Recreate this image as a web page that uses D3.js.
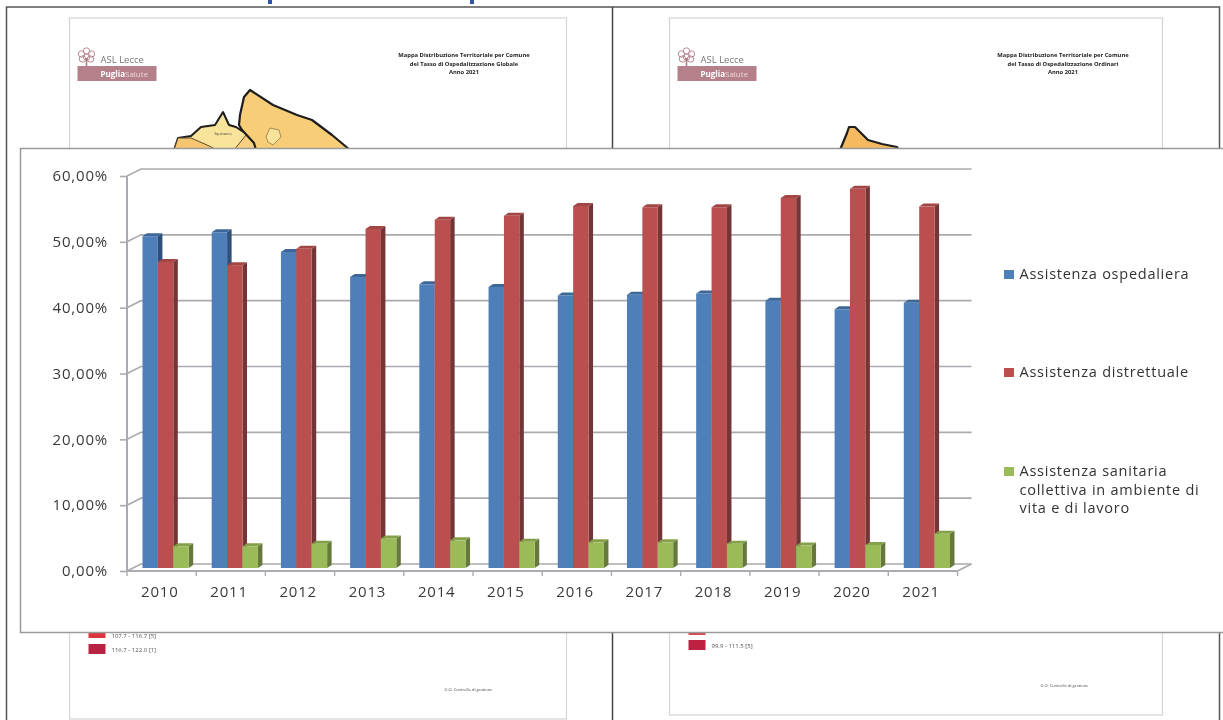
<!DOCTYPE html>
<html>
<head>
<meta charset="utf-8">
<script src="https://cdn.jsdelivr.net/npm/d3@7"></script>
<style>
  html, body { margin: 0; padding: 0; background: #fff; overflow: hidden; }
  svg { display: block; filter: blur(0.35px); }
  text { font-family: "Open Sans", sans-serif; }
</style>
</head>
<body>
<svg id="chart" width="1223" height="720"></svg>
<script>
//Données
let annees = ["2010","2011","2012","2013","2014","2015","2016","2017","2018","2019","2020","2021"];
let ospedaliera = [50.4,51.0,48.0,44.2,43.1,42.7,41.4,41.5,41.7,40.6,39.3,40.3];
let distrettuale = [46.5,46.0,48.5,51.5,52.9,53.5,55.0,54.8,54.8,56.2,57.6,54.9];
let collettiva = [3.3,3.3,3.7,4.5,4.2,4.0,3.9,3.9,3.7,3.4,3.5,5.2];
let ticksY = [0,10,20,30,40,50,60];
let nomsSeries = ["Assistenza ospedaliera","Assistenza distrettuale","Assistenza sanitaria|collettiva in ambiente di|vita e di lavoro"];

let svg = d3.select("#chart");

//FOND : les deux pages derrière le graphique------------
function ligne(pts){ return d3.line()(pts); }

svg.append("rect").attr("x",6.5).attr("y",7).attr("width",1213).attr("height",720)
  .attr("fill","#fff").attr("stroke","#555").attr("stroke-width",1.5);
svg.append("line").attr("x1",612.5).attr("x2",612.5).attr("y1",7).attr("y2",720)
  .attr("stroke","#444").attr("stroke-width",1.5);

//Morceaux du titre coupé en haut
[268,470].forEach(function(px){
  svg.append("rect").attr("x",px).attr("y",0).attr("width",4).attr("height",4).attr("fill","#2f55a4");
});

function page(o){
  let g = svg.append("g");
  g.append("rect").attr("x",o.x).attr("y",18).attr("width",o.w).attr("height",o.h)
    .attr("fill","#fff").attr("stroke","#d4d4d4").attr("stroke-width",1.2);

  //logo
  let lx = o.x + 17;
  [[0,-6],[-5,-3],[5,-3],[-4,2],[4,2],[0,0]].forEach(function(c){
    g.append("circle").attr("cx",lx+c[0]).attr("cy",57+c[1]).attr("r",3.2)
      .attr("fill","none").attr("stroke","#b98a90").attr("stroke-width",1);
  });
  g.append("line").attr("x1",lx).attr("x2",lx).attr("y1",58).attr("y2",66).attr("stroke","#a9747c").attr("stroke-width",1.5);
  g.append("text").attr("x",o.x+31).attr("y",63).attr("font-size",9.5).attr("fill","#777").text("ASL Lecce");
  g.append("rect").attr("x",o.x+8).attr("y",66).attr("width",79).attr("height",15).attr("fill","#b5808a");
  g.append("text").attr("x",o.x+31).attr("y",77).attr("font-size",8).attr("fill","#fff")
    .attr("font-weight",700).text("Puglia")
    .append("tspan").attr("font-weight",400).attr("fill","#ecd9dc").text("Salute");

  //titre de la carte
  o.titre.forEach(function(t,i){
    g.append("text").attr("x",o.tx).attr("y",57+i*8.7).attr("text-anchor","middle")
      .attr("font-size",5.8).attr("font-weight",700).attr("fill","#222").text(t);
  });

  //légende de la carte
  o.legende.forEach(function(l){
    g.append("rect").attr("x",o.x+19).attr("y",l.y).attr("width",17).attr("height",l.h).attr("fill",l.c);
    g.append("text").attr("x",o.x+42).attr("y",l.y+8).attr("font-size",6).attr("fill","#555")
      .attr("font-family","Liberation Serif").text(l.t);
  });

  g.append("text").attr("x",o.x+o.w-122).attr("y",o.yu).attr("font-size",4).attr("fill","#444").text("U.O. Controllo di gestione");
  return g;
}

let pageG = page({
  x:69.5, w:497, h:701, tx:464, yu:691,
  titre:["Mappa Distribuzione Territoriale per Comune","del Tasso di Ospedalizzazione Globale","Anno 2021"],
  legende:[{y:630,h:8,c:"#d9363e",t:"107.7 - 116.7  [5]"},{y:644,h:10,c:"#b92343",t:"116.7 - 122.0  [1]"}]
});
let pageD = page({
  x:669.5, w:493, h:697, tx:1063, yu:687,
  titre:["Mappa Distribuzione Territoriale per Comune","del Tasso di Ospedalizzazione Ordinari","Anno 2021"],
  legende:[{y:630,h:5,c:"#d9464e",t:""},{y:640,h:10,c:"#bd2142",t:"99.9 - 111.5  [5]"}]
});

//Contours des cartes, visibles au-dessus du panneau
let carteOrange = [[250,90],[273,105],[297,115],[312,120],[332,135],[350,150],[256,150],[254,143],[242,130],[239,125],[240,115],[244,97]];
let carteJaune = [[174,150],[178,138],[191,136],[201,127],[215,125],[223,112],[229,125],[236,127],[242,131],[250,136],[256,150]];
let carteOrange2 = [[174,150],[178,138],[191,138],[207,145],[217,150]];
let carteOrange3 = [[234,150],[246,135],[254,143],[256,150]];
let cartePale = [[270,128],[279,130],[281,137],[273,145],[268,142],[266,137]];
let carteDroite = [[840,150],[847,133],[849,127],[855,127],[868,140],[882,144],[897,147],[899,150]];

function zone(g,pts,fill,stroke,sw){
  g.append("path").attr("d",ligne(pts)+"Z").attr("fill",fill).attr("stroke",stroke).attr("stroke-width",sw).attr("stroke-linejoin","round");
}
zone(pageG,carteJaune,"#f8e39a","#1d1d1d",2);
zone(pageG,carteOrange2,"#f6c56f","#5a4a2a",1);
zone(pageG,carteOrange3,"#f6cf80","#5a4a2a",1);
zone(pageG,carteOrange,"#f7cd78","#1d1d1d",2.2);
zone(pageG,cartePale,"#f8e39a","#8d7a4a",0.8);
pageG.append("text").attr("x",223).attr("y",135).attr("text-anchor","middle").attr("font-size",3.5).attr("fill","#444").text("Squinzano");
zone(pageD,carteDroite,"#f5b95f","#1d1d1d",2.2);

//PANNEAU DU GRAPHIQUE------------------------------------
svg.append("rect").attr("x",20.5).attr("y",148.5).attr("width",1230).attr("height",484)
  .attr("fill","#fff").attr("stroke","#9a9a9a").attr("stroke-width",1.5);

//Echelles
let margeX = 127, finX = 957.5, baseAxe = 571, hautAxe = 176;
let profX = 14, profY = 7;     //profondeur du mur du fond
let baseBarre = 568;           //les barres sont posées au milieu du sol
let largeurBarre = 15.4;
let x = d3.scaleBand().domain(annees).range([margeX, finX]);
let y = d3.scaleLinear().domain([0,60]).range([baseAxe, hautAxe]);
let hauteur = d3.scaleLinear().domain([0,60]).range([0, baseAxe-hautAxe]);

let couleurGrille = "#a9abb0";

//Lignes du fond
let grille = svg.append("g").attr("class","grille");
ticksY.forEach(function(t){
  grille.append("path")
    .attr("d", ligne([[margeX,y(t)],[margeX+profX,y(t)-profY],[finX+profX,y(t)-profY]]))
    .attr("fill","none").attr("stroke",couleurGrille).attr("stroke-width",t===0?1.6:1.6);
});
grille.append("path")
  .attr("d", ligne([[finX,baseAxe],[finX+profX,baseAxe-profY]]))
  .attr("fill","none").attr("stroke",couleurGrille).attr("stroke-width",1.6);

//Barres en pseudo 3D : côté, dessus, face
let series = [
  {nom:nomsSeries[0], val:ospedaliera, face:"#4f7fb8", cote:"#2f4f7c", dessus:"#3d6797"},
  {nom:nomsSeries[1], val:distrettuale, face:"#b9504f", cote:"#733535", dessus:"#a04745"},
  {nom:nomsSeries[2], val:collettiva, face:"#9bbb59", cote:"#66793c", dessus:"#84a04a"}
];
let decalage = d3.scaleBand().domain([0,1,2]).range([15.5, 15.5+3*largeurBarre]);
let dx = 4.5, dy = 3;

annees.forEach(function(an,i){
  let gAn = svg.append("g").attr("class","annee");
  series.forEach(function(s,k){
    let x0 = x(an) + decalage(k);
    let x1 = x0 + decalage.bandwidth();
    let yh = baseBarre - hauteur(s.val[i]);
    gAn.append("path").attr("d", ligne([[x1,yh],[x1+dx,yh-dy],[x1+dx,baseBarre-dy],[x1,baseBarre]])+"Z").attr("fill",s.cote);
    gAn.append("path").attr("d", ligne([[x0,yh],[x0+dx,yh-dy],[x1+dx,yh-dy],[x1,yh]])+"Z").attr("fill",s.dessus);
    gAn.append("rect").attr("x",x0).attr("y",yh).attr("width",x1-x0).attr("height",baseBarre-yh).attr("fill",s.face);
  });
});

//Axes
let axeY = svg.append("g")
  .attr("transform","translate("+margeX+",0)")
  .call(d3.axisLeft(y).tickValues(ticksY).tickSize(7).tickPadding(12)
    .tickFormat(function(d){ return d.toFixed(2).replace(".",",")+"%"; }));
axeY.select(".domain").attr("stroke",couleurGrille).attr("stroke-width",2).attr("d","M0,"+hautAxe+"V"+baseAxe);
axeY.selectAll(".tick line").attr("stroke",couleurGrille).attr("stroke-width",1.6);
axeY.selectAll("text").attr("font-size",15).attr("fill","#3a3a3a").style("letter-spacing","0.8px").attr("font-family","Open Sans");

let axeX = svg.append("g")
  .attr("transform","translate(0,"+baseAxe+")")
  .call(d3.axisBottom(x).tickSize(0).tickPadding(15));
axeX.select(".domain").attr("stroke",couleurGrille).attr("stroke-width",2).attr("d","M"+margeX+",0H"+finX);
axeX.selectAll("text").attr("font-size",15).attr("fill","#3a3a3a").attr("dx",-1.8).style("letter-spacing","0.8px").attr("font-family","Open Sans");
annees.forEach(function(an){
  axeX.append("line").attr("x1",x(an)+x.step()).attr("x2",x(an)+x.step()).attr("y1",0).attr("y2",5)
    .attr("stroke",couleurGrille).attr("stroke-width",1.4);
});
axeX.append("line").attr("x1",margeX).attr("x2",margeX).attr("y1",0).attr("y2",5)
  .attr("stroke",couleurGrille).attr("stroke-width",1.4);

//Légende
let positionsLegende = [274,372,471];
let legende = svg.append("g");
series.forEach(function(s,k){
  legende.append("rect").attr("x",1004).attr("y",positionsLegende[k]-4).attr("width",10).attr("height",9).attr("fill",s.face);
  s.nom.split("|").forEach(function(txt,j){
    legende.append("text").attr("x",1019.5).attr("y",positionsLegende[k]+5+j*18.5)
      .attr("font-size",14.5).attr("fill","#333").style("letter-spacing","0.75px").text(txt);
  });
});
</script>
</body>
</html>
